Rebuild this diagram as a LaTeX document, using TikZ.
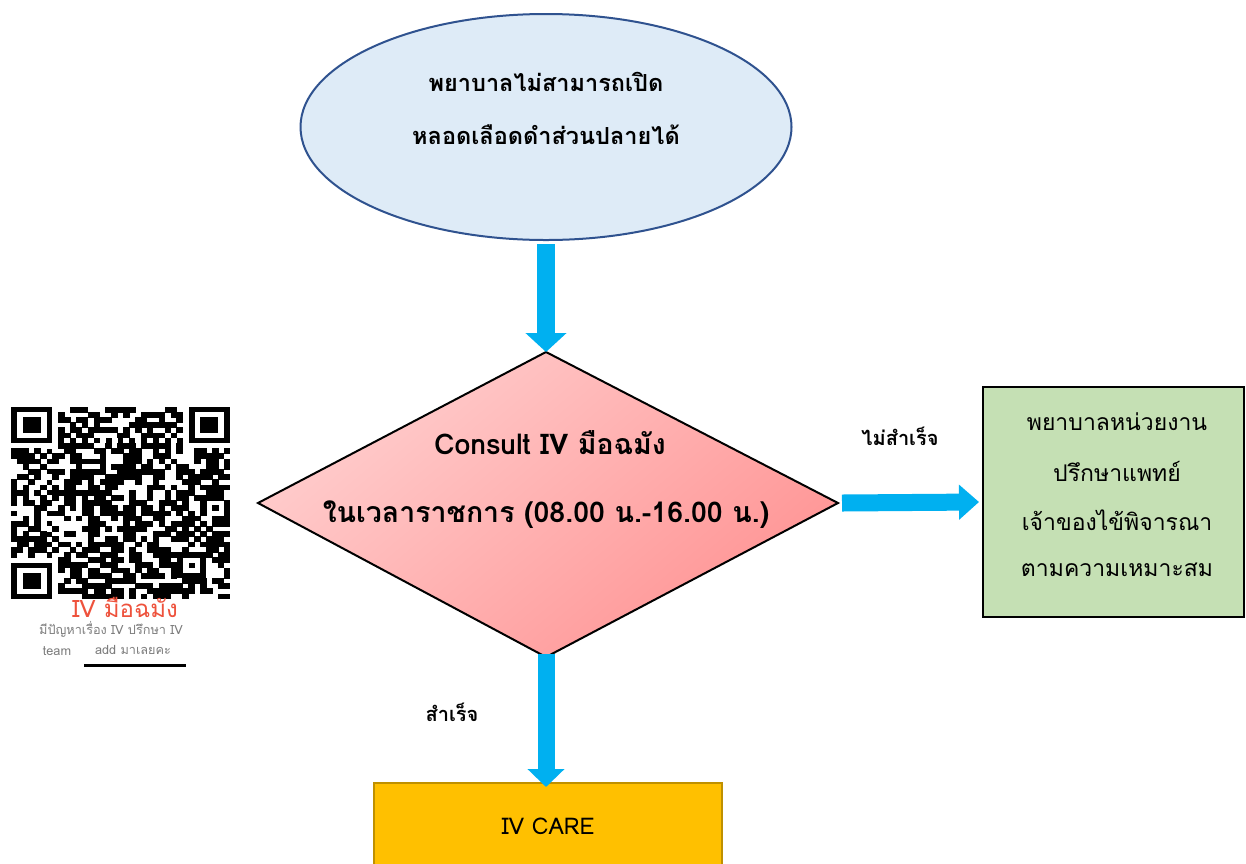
\documentclass[tikz,border=0pt]{standalone}
\usepackage{fontspec}
\newfontfamily\thai[Script=Thai]{Loma}
\usetikzlibrary{shapes.geometric,arrows.meta}
\definecolor{ellfill}{RGB}{222,235,247}
\definecolor{elldraw}{RGB}{47,82,143}
\definecolor{arrowblue}{RGB}{0,176,240}
\definecolor{pinklight}{RGB}{255,206,206}
\definecolor{pinkdark}{RGB}{255,148,148}
\definecolor{greenfill}{RGB}{197,224,180}
\definecolor{goldfill}{RGB}{255,192,0}
\definecolor{golddraw}{RGB}{191,144,0}
\definecolor{qrred}{RGB}{238,82,60}
\definecolor{qrgray}{RGB}{125,125,125}
\tikzset{
  txt/.style={font=\thai\fontsize{23}{27}\selectfont, inner sep=0pt},
  txtb/.style={font=\thai\bfseries\fontsize{23.5}{27}\selectfont, inner sep=0pt},
  txtd/.style={font=\thai\bfseries\fontsize{28.5}{32}\selectfont, inner sep=0pt},
  lbl/.style={font=\thai\bfseries\fontsize{20}{24}\selectfont, inner sep=0pt},
  qrsmall/.style={inner sep=0pt, text=qrgray, font=\thai\fontsize{12.7}{14}\selectfont},
  bigarrow/.style={draw=arrowblue, line width=#1},
  qrmod/.style={fill=black},
}
\begin{document}
\begin{tikzpicture}[x=1pt,y=-1pt]
\useasboundingbox (0,0) rectangle (1246,863);
\clip (0,0) rectangle (1246,863);
\fill[white] (0,0) rectangle (1246,863);

% start ellipse
\node[ellipse, draw=elldraw, line width=2pt, fill=ellfill, minimum width=491pt, minimum height=226pt, inner sep=0pt] (start) at (546,127) {};
\node[txtb] (s1) at (546,82) {พยาบาลไม่สามารถเปิด};
\node[txtb] (s2) at (546,135) {หลอดเลือดดำส่วนปลายได้};

% decision diamond
\coordinate (dT) at (546,352);
\coordinate (dB) at (546,657);
\coordinate (dL) at (258,503);
\coordinate (dR) at (838,503);
\shade[top color=pinklight, bottom color=pinkdark, shading angle=40] (dT) -- (dR) -- (dB) -- (dL) -- cycle;
\draw[line width=2pt, line join=miter] (dT) -- (dR) -- (dB) -- (dL) -- cycle;
\node[txtb, txtd] (d1) at (550,443) {Consult IV มือฉมัง};
\node[txtb, txtd] (d2) at (546,515) {ในเวลาราชการ (08.00 น.-16.00 น.)};

% green box
\node[draw, line width=2pt, fill=greenfill, minimum width=261pt, minimum height=230pt, inner sep=0pt] (fail) at (1113.5,502) {};
\node[txt] (f1) at (1117,422) {พยาบาลหน่วยงาน};
\node[txt] (f2) at (1117,471) {ปรึกษาแพทย์};
\node[txt] (f3) at (1117,520) {เจ้าของไข้พิจารณา};
\node[txt] (f4) at (1117,570) {ตามความเหมาะสม};

% IV CARE box
\node[draw=golddraw, line width=2pt, fill=goldfill, minimum width=348pt, minimum height=160pt, inner sep=0pt] (care) at (548,863) {};
\node[txt] (c1) at (548,826) {IV CARE};

% arrows
\draw[bigarrow=18pt, -{Triangle[width=40pt,length=19pt]}] ([yshift=-3pt]start.south) -- (dT);
\draw[bigarrow=17pt, -{Triangle[width=34pt,length=20pt]}] ([xshift=4pt]dR) -- ([xshift=-3pt]fail.west);
\draw[bigarrow=17pt, -{Triangle[width=36pt,length=18pt]}] ([yshift=3pt]dB) -- ([yshift=-5pt]dB |- care.north);

\node[lbl] (lf) at (900,436) {ไม่สำเร็จ};
\node[lbl] (ls) at (452,712) {สำเร็จ};

% QR code
\def\qx{11}\def\qy{407}\def\mw{5.92}\def\mh{5.19}
\pgfmathsetseed{4711}
\foreach \i in {0,...,36}{
  \foreach \j in {0,...,36}{
    \pgfmathtruncatemacro\res{((\i<8)&&(\j<8)) || ((\i>28)&&(\j<8)) || ((\i<8)&&(\j>28)) || ((\i>27)&&(\i<33)&&(\j>27)&&(\j<33)) || (\i==6) || (\j==6)}
    \ifnum\res=0
      \pgfmathrandominteger{\r}{0}{99}
      \ifnum\r<56
        \fill[qrmod] (\qx+\i*\mw-0.3,\qy+\j*\mh-0.3) rectangle ++(\mw+0.6,\mh+0.6);
      \fi
    \fi
  }
}
% timing patterns
\foreach \k in {8,10,...,28}{
  \fill[qrmod] (\qx+\k*\mw,\qy+6*\mh) rectangle ++(\mw,\mh);
  \fill[qrmod] (\qx+6*\mw,\qy+\k*\mh) rectangle ++(\mw,\mh);
}
% finder patterns
\foreach \a/\b in {0/0,30/0,0/30}{
  \fill[qrmod] (\qx+\a*\mw,\qy+\b*\mh) rectangle ++(7*\mw,7*\mh);
  \fill[white] (\qx+\a*\mw+\mw,\qy+\b*\mh+\mh) rectangle ++(5*\mw,5*\mh);
  \fill[qrmod] (\qx+\a*\mw+2*\mw,\qy+\b*\mh+2*\mh) rectangle ++(3*\mw,3*\mh);
}
% alignment pattern
\fill[qrmod] (\qx+28*\mw,\qy+28*\mh) rectangle ++(5*\mw,5*\mh);
\fill[white] (\qx+29*\mw,\qy+29*\mh) rectangle ++(3*\mw,3*\mh);
\fill[qrmod] (\qx+30*\mw,\qy+30*\mh) rectangle ++(\mw,\mh);

\node[inner sep=0pt, text=qrred, font=\thai\fontsize{24}{26}\selectfont] (qt) at (125,607) {IV มือฉมัง};
\node[qrsmall] (q1) at (111,629) {มีปัญหาเรื่อง IV ปรึกษา IV};
\node[qrsmall] (q2) at (57,651) {team};
\node[qrsmall] (q3) at (133,650) {add มาเลยคะ};
\draw[line width=3pt] (84,665) -- (186,665);
\end{tikzpicture}
\end{document}
